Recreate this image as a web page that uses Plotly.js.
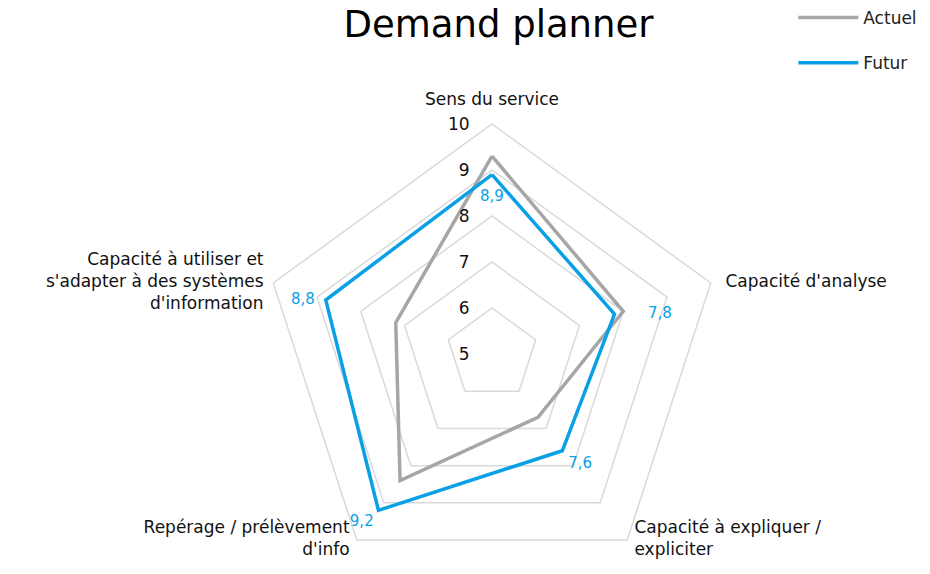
<!DOCTYPE html>
<html>
<head>
<meta charset="utf-8">
<script src="https://cdn.plot.ly/plotly-3.0.1.min.js"></script>
<style>
  html, body { margin: 0; padding: 0; background: #fff; overflow: hidden; }
  #chart { width: 930px; height: 590px; }
</style>
</head>
<body>
<div id="chart"></div>
<script>
const categories = [
  'Sens du service',
  "Capacité d'analyse",
  'Capacité à expliquer /<br>expliciter',
  'Repérage / prélèvement<br>d\'info',
  "Capacité à utiliser et<br>s'adapter à des systèmes<br>d'information"
];
const actuel = [9.3, 8.0, 6.7, 8.4, 7.2];
const futur = [8.9, 7.8, 7.6, 9.2, 8.8];
const tickVals = [5, 6, 7, 8, 9, 10];
const rMin = 5, rMax = 10;

const GRAY = '#a6a6a6';
const BLUE = '#0aa0e6';
const FONT = 'DejaVu Sans, Noto Sans, sans-serif';

// close the polygons
const closed = arr => [...arr, arr[0]];
const cats = closed(categories);

const futurText = futur.map(v => v.toFixed(1).replace('.', ','));
const valuePos = ['bottom center', 'middle right', 'bottom right', 'bottom left', 'middle left'];
const valuePad = [22, 52, 8, 6, 16];

// category labels sit on the outer ring, beside each vertex
const catPos = ['top center', 'middle right', 'middle right', 'middle left', 'middle left'];
const catPad = [22, 22, 10, 10, 14];

const H = 590;  // drawn a bit taller than the window so the pentagon can fill it

Plotly.newPlot('chart', [
  { type: 'scatterpolar', r: closed(actuel), theta: cats, name: 'Actuel', mode: 'lines',
    line: { color: GRAY, width: 3.5 }, legendgroup: 'a', hoverinfo: 'skip' },
  { type: 'scatterpolar', r: closed(futur), theta: cats, name: 'Futur', mode: 'lines',
    line: { color: BLUE, width: 3.5 }, legendgroup: 'b', hoverinfo: 'skip' },
  { type: 'scatterpolar', r: futur, theta: categories, mode: 'markers+text', showlegend: false,
    marker: { size: valuePad, opacity: 0 }, text: futurText, textposition: valuePos,
    textfont: { color: BLUE, size: 15, family: FONT }, hoverinfo: 'skip' },
  { type: 'scatterpolar', r: categories.map(() => rMax), theta: categories, mode: 'markers+text',
    showlegend: false, cliponaxis: false,
    marker: { size: catPad, opacity: 0 }, text: categories, textposition: catPos,
    textfont: { color: '#111', size: 17, family: FONT }, hoverinfo: 'skip' }
], {
  width: 930, height: H,
  margin: { l: 0, r: 0, t: 0, b: 0 },
  paper_bgcolor: '#fff',
  font: { family: FONT, size: 17, color: '#111' },
  title: { text: 'Demand planner', x: 0.536, xanchor: 'center', y: 1 - 24 / H, yanchor: 'middle',
    font: { family: FONT, size: 37, color: '#000' } },
  showlegend: true,
  legend: { x: 0.853, y: 1.0, xanchor: 'left', yanchor: 'top', tracegroupgap: 20,
    itemwidth: 60, font: { size: 17, color: '#222' }, bgcolor: 'rgba(0,0,0,0)' },
  polar: {
    domain: { x: [262 / 930, 722 / 930], y: [(H - 584) / H, (H - 124) / H] },
    gridshape: 'linear',
    bgcolor: '#fff',
    radialaxis: {
      range: [rMin, rMax], tickvals: tickVals, ticktext: tickVals.map(String),
      angle: 90, tickangle: 90, side: 'counterclockwise',
      showline: false, ticks: 'outside', ticklen: 16, tickcolor: 'rgba(0,0,0,0)',
      gridcolor: '#d9d9d9', gridwidth: 1.5,
      tickfont: { size: 17, color: '#111' }
    },
    angularaxis: {
      direction: 'clockwise', rotation: 90,
      showgrid: false, showline: true, linecolor: '#d9d9d9', linewidth: 1.5,
      ticks: '', showticklabels: false
    }
  }
}, { displayModeBar: false, staticPlot: true });
</script>
</body>
</html>
